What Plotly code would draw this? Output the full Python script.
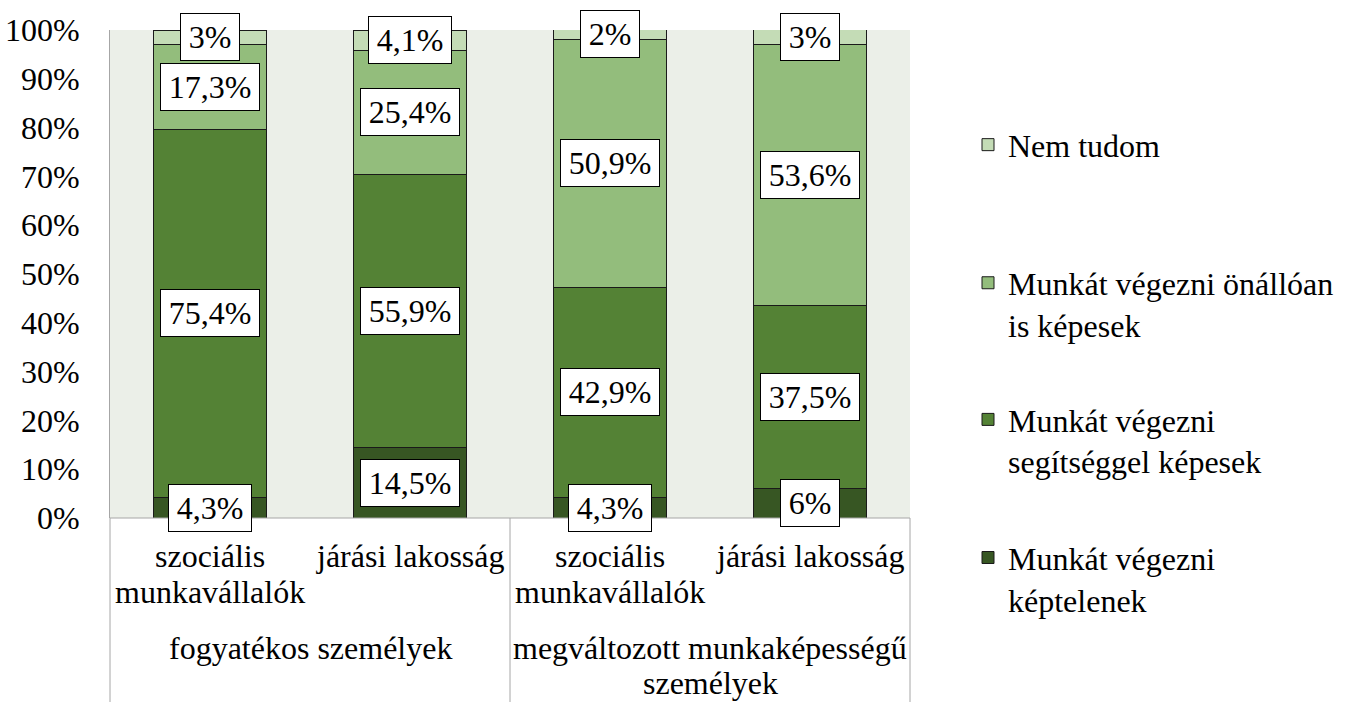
import plotly.graph_objects as go

# ---------------- data ----------------
x_pos = [0, 1, 2, 3]
sub_label_lines = [["szociális", "munkavállalók"], ["járási lakosság"],
                   ["szociális", "munkavállalók"], ["járási lakosság"]]
group_label_lines = [["fogyatékos személyek"],
                     ["megváltozott munkaképességű", "személyek"]]
group_centers = [0.5, 2.5]

series_names = [
    "Munkát végezni<br>képtelenek",
    "Munkát végezni<br>segítséggel képesek",
    "Munkát végezni önállóan<br>is képesek",
    "Nem tudom",
]
keptelenek = [4.3, 14.5, 4.3, 6.0]
segitseggel = [75.4, 55.9, 42.9, 37.5]
onalloan = [17.3, 25.4, 50.9, 53.6]
nem_tudom = [3.0, 4.1, 2.0, 3.0]
series_values = [keptelenek, segitseggel, onalloan, nem_tudom]

y_tick_vals = [0, 10, 20, 30, 40, 50, 60, 70, 80, 90, 100]
y_tick_text = ["0%", "10%", "20%", "30%", "40%", "50%", "60%", "70%", "80%", "90%", "100%"]

# ---------------- style ----------------
colors = ["#375623", "#548235", "#93BD7C", "#C4DCB6"]
FONT = "Liberation Serif, Times New Roman, serif"
FS = 32
LINE = "#A6A6A6"
PLOT_TOP, PLOT_BOTTOM = 30, 518          # pixel rows of 100% and 0%
LINE_STEP = 36                           # text line spacing in px


def paper_y(py):
    return (PLOT_BOTTOM - py) / (PLOT_BOTTOM - PLOT_TOP)


fig = go.Figure()

legend_ids = ["legend4", "legend3", "legend2", "legend"]
for name, vals, col, lg in zip(series_names, series_values, colors, legend_ids):
    fig.add_trace(go.Bar(
        x=x_pos, y=vals, name=name, width=0.565,
        marker=dict(color=col, line=dict(color="#1a1a1a", width=1)),
        legend=lg, hoverinfo="skip",
    ))

# data labels
def fmt(v):
    return ("%g" % v).replace(".", ",") + "%"

base = [0.0] * len(x_pos)
for vals in series_values:
    for i, v in enumerate(vals):
        fig.add_annotation(
            x=x_pos[i], y=base[i] + v / 2, xref="x", yref="y",
            text="\u200a" + fmt(v) + "\u200a", showarrow=False,
            font=dict(family=FONT, size=FS, color="black"),
            bgcolor="white", bordercolor="black", borderwidth=1, borderpad=5,
        )
        base[i] += v

txt_font = dict(family=FONT, size=FS, color="black")
# category labels (one annotation per text line for Excel-like spacing)
for i, lines in enumerate(sub_label_lines):
    for k, ln in enumerate(lines):
        fig.add_annotation(x=x_pos[i], y=paper_y(556 + k * LINE_STEP),
                           xref="x", yref="paper", text=ln, showarrow=False,
                           yanchor="middle", font=txt_font)
for gi, lines in enumerate(group_label_lines):
    for k, ln in enumerate(lines):
        fig.add_annotation(x=group_centers[gi], y=paper_y(648 + k * 35),
                           xref="x", yref="paper", text=ln, showarrow=False,
                           yanchor="middle", font=txt_font)

# category separator lines
for xp in [0, 0.5, 1]:
    fig.add_shape(type="line", xref="paper", yref="paper",
                  x0=xp, x1=xp, y0=0, y1=paper_y(702),
                  line=dict(color=LINE, width=1))
fig.add_shape(type="line", xref="paper", yref="paper",
              x0=0, x1=1, y0=0, y1=0, line=dict(color=LINE, width=1))

legend_common = dict(
    x=1.0725, xanchor="left", yanchor="top", valign="top",
    font=dict(family=FONT, size=FS, color="black"),
    bgcolor="rgba(0,0,0,0)", borderwidth=0,
)
fig.update_layout(
    width=1349, height=702,
    margin=dict(l=110, r=439, t=30, b=184, autoexpand=False),
    paper_bgcolor="white", plot_bgcolor="#EBEFE8",
    barmode="stack", bargap=0.4,
    font=dict(family=FONT, size=FS, color="black"),
    xaxis=dict(
        range=[-0.5, 3.5], tickvals=x_pos, showticklabels=False,
        showgrid=False, zeroline=False, showline=False, ticks="",
        automargin=False,
    ),
    yaxis=dict(
        range=[0, 100], tickvals=y_tick_vals, ticktext=y_tick_text,
        ticks="outside", ticklen=23, tickcolor="rgba(0,0,0,0)",
        showgrid=False, zeroline=False, showline=True,
        linecolor=LINE, linewidth=1, automargin=False,
        tickfont=dict(family=FONT, size=FS, color="black"),
    ),
    legend=dict(y=0.821, **legend_common),
    legend2=dict(y=0.538, **legend_common),
    legend3=dict(y=0.258, **legend_common),
    legend4=dict(y=-0.025, **legend_common),
    showlegend=True,
)

fig.write_html("out.html", config={"displayModeBar": False},
               post_script="document.body.style.margin='0';")
